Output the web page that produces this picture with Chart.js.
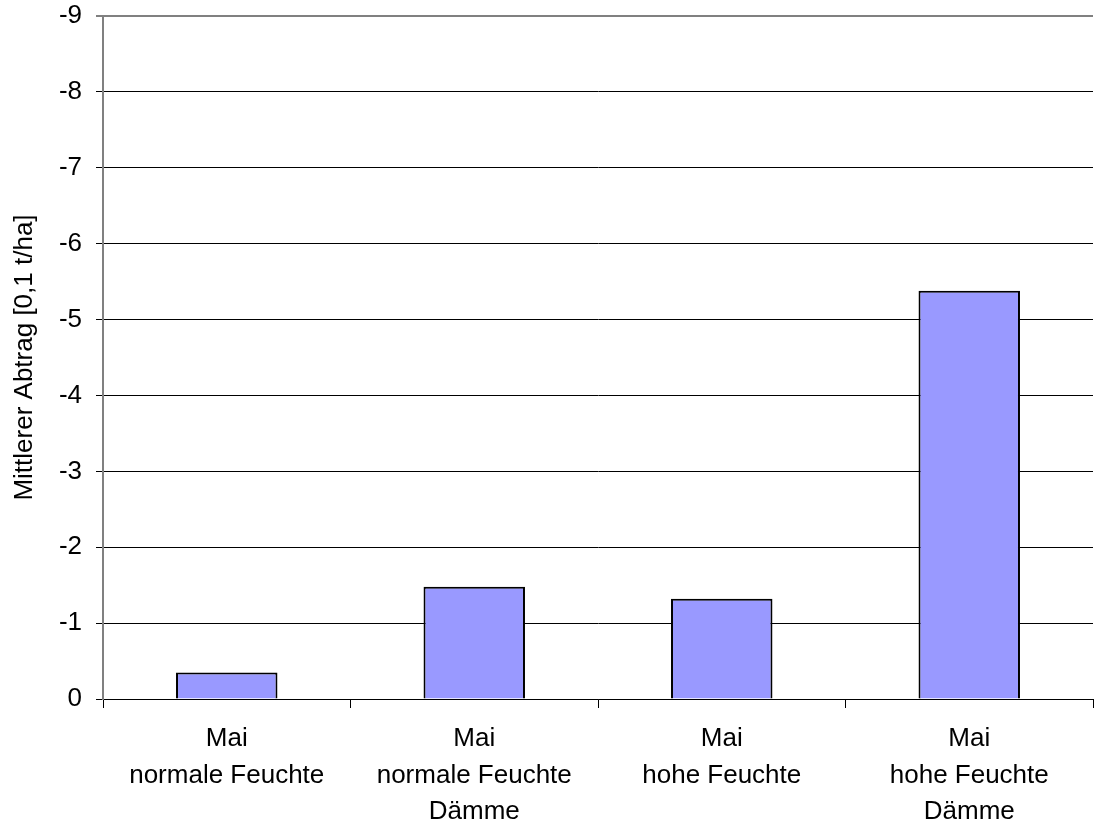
<!DOCTYPE html>
<html>
<head>
<meta charset="utf-8">
<script src="https://cdn.jsdelivr.net/npm/chart.js@4"></script>
<style>
  html, body { margin: 0; padding: 0; background: #fff; }
  #wrap { width: 1094px; height: 821px; }
</style>
</head>
<body>
<div id="wrap"><canvas id="chart" width="1094" height="821"></canvas></div>
<script>
// categories (multi-line labels) and measured values
const categories = [
  ['Mai', 'normale Feuchte'],
  ['Mai', 'normale Feuchte', 'Dämme'],
  ['Mai', 'hohe Feuchte'],
  ['Mai', 'hohe Feuchte', 'Dämme']
];
const abtrag = [-0.35, -1.48, -1.32, -5.38];
const yTicks = [0, -1, -2, -3, -4, -5, -6, -7, -8, -9];

const ctx = document.getElementById('chart').getContext('2d');

const myChart = new Chart(ctx, {
  type: 'bar',
  data: {
    labels: categories,
    datasets: [{
      data: abtrag,
      backgroundColor: '#9999ff',
      borderColor: '#000000',
      borderWidth: 2,
      borderSkipped: 'start',
      barPercentage: 0.41,
      categoryPercentage: 1.0
    }]
  },
  options: {
    responsive: false,
    animation: false,
    layout: { padding: { top: 0, right: 1, left: 0, bottom: 0 } },
    plugins: {
      legend: { display: false },
      tooltip: { enabled: false }
    },
    scales: {
      x: {
        offset: true,
        afterFit: (scale) => { scale.height = 122; },
        grid: {
          offset: true,
          drawOnChartArea: false,
          tickLength: 9,
          color: '#000'
        },
        border: { color: '#000', width: 1 },
        ticks: {
          color: '#000',
          font: { family: 'Liberation Sans', size: 26, lineHeight: 1.42 },
          padding: 12,
          maxRotation: 0
        }
      },
      y: {
        reverse: true,
        min: -9,
        max: 0,
        afterFit: (scale) => {
          scale.width = 103;
          scale.paddingTop = 16;
        },
        afterBuildTicks: (axis) => {
          axis.ticks = yTicks.map(v => ({ value: v }));
        },
        grid: {
          color: (c) => c.tick && c.tick.value === -9 ? '#808080' : '#000',
          lineWidth: (c) => c.tick && c.tick.value === -9 ? 2 : 1,
          tickLength: 7
        },
        border: { color: '#808080', width: 2 },
        title: {
          display: true,
          text: 'Mittlerer Abtrag [0,1 t/ha]',
          color: '#000',
          font: { family: 'Liberation Sans', size: 26 },
          padding: { top: 9, bottom: 0 }
        },
        ticks: {
          color: '#000',
          font: { family: 'Liberation Sans', size: 26 },
          padding: 14
        }
      }
    }
  }
});
</script>
</body>
</html>
